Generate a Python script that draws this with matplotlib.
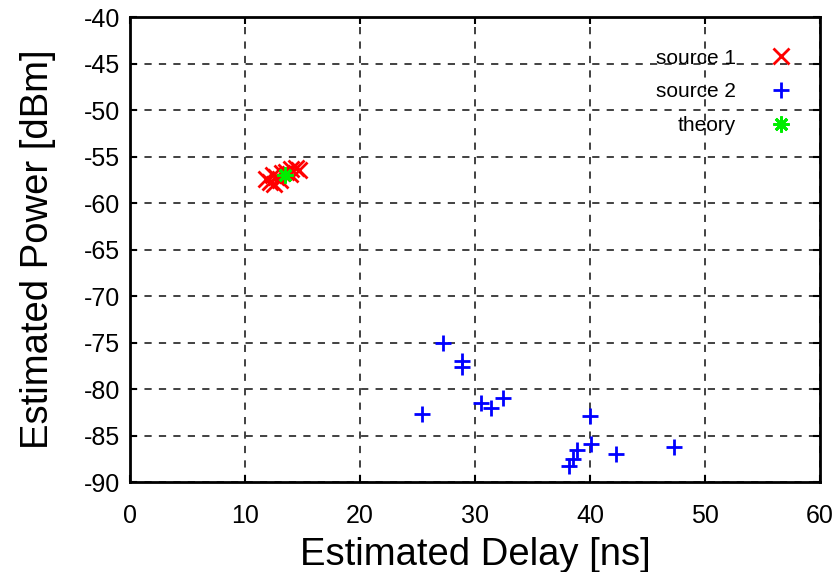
import matplotlib
matplotlib.use("Agg")
import matplotlib.pyplot as plt

# source 1 (red x)
src1_delay = [11.8, 12.2, 12.5, 12.7, 13.0, 13.2, 13.6, 14.0, 14.4, 14.7, 13.9, 12.4]
src1_power = [-57.4, -57.7, -57.9, -57.2, -57.5, -56.8, -56.6, -56.3, -56.2, -56.4, -56.9, -57.0]

# source 2 (blue +)
src2_delay = [27.2, 28.9, 28.9, 25.4, 30.5, 31.4, 32.4, 40.0, 40.1, 38.9, 38.5, 38.2, 42.3, 47.3]
src2_power = [-75.0, -77.0, -77.6, -82.7, -81.5, -82.0, -81.0, -82.9, -85.9, -86.5, -87.5, -88.3, -87.0, -86.2]

# theory (green asterisk)
theory_delay = [13.5]
theory_power = [-57.0]

xticks = list(range(0, 61, 10))
yticks = list(range(-90, -39, 5))

plt.rcParams["font.family"] = ["Liberation Sans", "DejaVu Sans"]
plt.rcParams["axes.unicode_minus"] = False

fig = plt.figure(figsize=(8.34, 5.72), dpi=100)
ax = fig.add_axes([0.156, 0.157, 0.827, 0.813])

ax.plot(src1_delay, src1_power, linestyle="none", marker="x", color="#ff0000",
        markersize=11.5, markeredgewidth=2.0, label="source 1")
ax.plot(src2_delay, src2_power, linestyle="none", marker="+", color="#0000ff",
        markersize=11.5, markeredgewidth=2.0, label="source 2")
ax.plot(theory_delay, theory_power, linestyle="none", marker=(8, 2, 0), color="#00ee00",
        markersize=11.5, markeredgewidth=2.0, label="theory")

ax.set_xlim(0, 60)
ax.set_ylim(-90, -40)
ax.set_xticks(xticks)
ax.set_yticks(yticks)
ax.tick_params(direction="in", length=5, width=1.5, top=True, right=True,
               labelsize=18)
ax.tick_params(axis="x", pad=16)
ax.tick_params(axis="y", pad=7)
for s in ax.spines.values():
    s.set_linewidth(2)
ax.grid(True, color="#333333", linestyle=(0, (4, 4)), linewidth=1.3)
ax.set_axisbelow(True)

ax.set_xlabel("Estimated Delay [ns]", fontsize=27.5, labelpad=6)
ax.set_ylabel("Estimated Power [dBm]", fontsize=27.5, labelpad=20)

ax.legend(loc="upper right", bbox_to_anchor=(0.971, 0.9505), borderaxespad=0,
          frameon=False, markerfirst=False, fontsize=15,
          handlelength=1.0, handletextpad=1.66, labelspacing=0.71)

fig.savefig("out.png", dpi=100)
